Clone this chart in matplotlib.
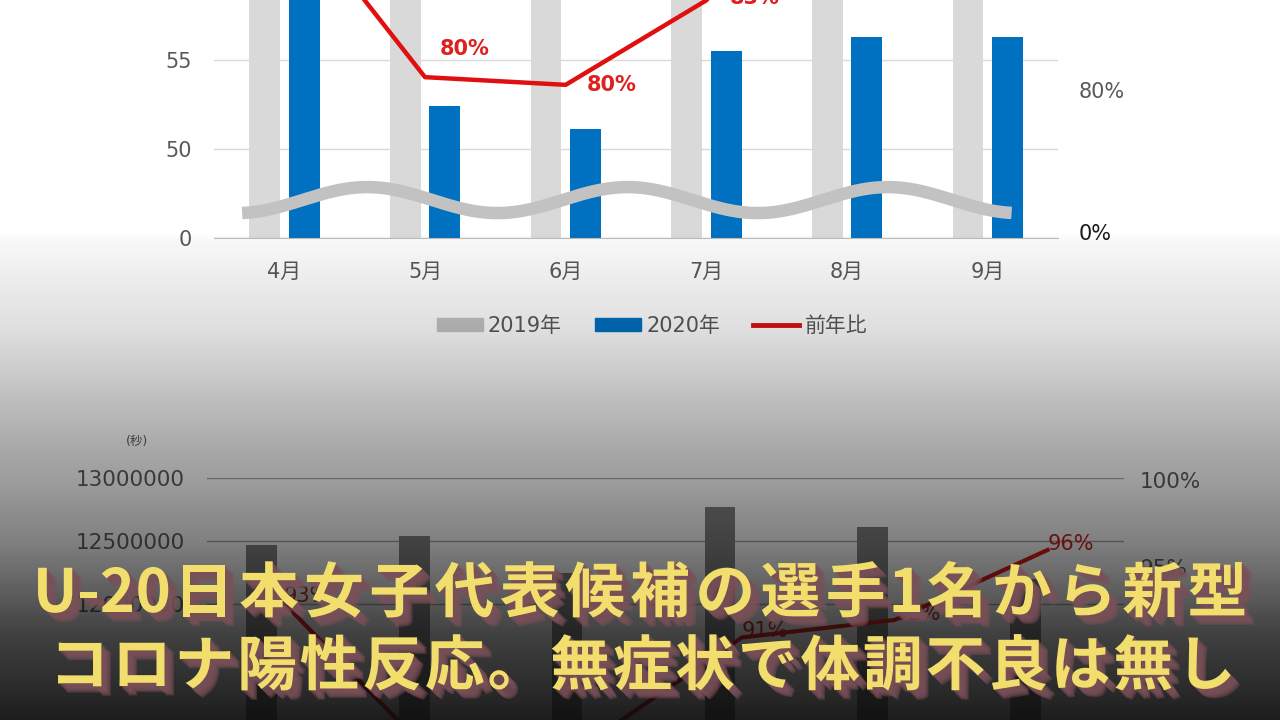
import numpy as np
import matplotlib
matplotlib.use('Agg')
import matplotlib.pyplot as plt
from matplotlib import patheffects as pe
from matplotlib.patches import Patch
from matplotlib.lines import Line2D

plt.rcParams['font.family'] = ['DejaVu Sans', 'Noto Sans CJK JP']

# top chart data
months = ['4月', '5月', '6月', '7月', '8月', '9月']
sales_2019 = [61.0, 60.5, 61.0, 60.0, 62.0, 61.0]
sales_2020 = [59.5, 52.4, 51.1, 55.5, 56.3, 56.3]
ratio = [0.86, 0.804, 0.8016, 0.828, 0.88, 0.87]
label_offsets = [(40, 28), (40, 28), (46, 0), (48, 2), (46, 4), (46, 4)]

# bottom chart data
secs_2019 = [12470000, 12540000, 12250000, 12770000, 12610000, 12200000]
ratio_b = [0.93, 0.84, 0.85, 0.91, 0.92, 0.96]

caption1 = 'U-20日本女子代表候補の選手1名から新型'
caption2 = 'コロナ陽性反応。無症状で体調不良は無し'

W, H = 1280, 720
fig = plt.figure(figsize=(12.8, 7.2), dpi=100, facecolor='white')


def fax(left, top, right, bottom):
    return [left / W, 1 - bottom / H, (right - left) / W, (bottom - top) / H]


def fwd_l(v):
    v = np.asarray(v, float)
    return np.where(v <= 50, v / 50, 1 + (v - 50) / 5)


def inv_l(u):
    u = np.asarray(u, float)
    return np.where(u <= 1, u * 50, 50 + (u - 1) * 5)


K = 22.54


def fwd_r(v):
    v = np.asarray(v, float)
    return np.where(v <= 0.8, v / 0.8, 1 + (v - 0.8) * K)


def inv_r(u):
    u = np.asarray(u, float)
    return np.where(u <= 1, u * 0.8, 0.8 + (u - 1) / K)


grey_txt = '#595959'
x = np.arange(len(months))

# ---------- top chart ----------
ax = fig.add_axes(fax(214, 0, 1058, 238))
ax.set_yscale('function', functions=(fwd_l, inv_l))
ax.bar(x - 0.14, sales_2019, width=0.22, color='#d9d9d9', zorder=2)
ax.bar(x + 0.14, sales_2020, width=0.22, color='#0070c0', zorder=2)
ax.set_xlim(-0.5, 5.5)
ax.set_ylim(0, 58.37)
ax.set_yticks([0, 50, 55])
ax.set_yticklabels(['0', '50', '55'])
ax.set_xticks(x)
ax.set_xticklabels(months)
ax.grid(axis='y', color='#d9d9d9', lw=1, zorder=0)
for s in ['top', 'right', 'left']:
    ax.spines[s].set_visible(False)
ax.spines['bottom'].set_color('#bfbfbf')
ax.tick_params(length=0, labelsize=15, labelcolor=grey_txt)
ax.tick_params(axis='x', pad=17)
ax.tick_params(axis='y', pad=16)

# axis-break wave
xs = np.linspace(-0.3, 5.17, 300)
ax.plot(xs, 21.3 + 7.3 * np.cos(2 * np.pi * (xs - 0.59) / 1.85),
        color='#c2c2c2', lw=9, solid_capstyle='butt', zorder=3)

axr = ax.twinx()
axr.set_yscale('function', functions=(fwd_r, inv_r))
axr.plot(x, ratio, color='#e01010', lw=3.2, zorder=4)
axr.set_ylim(-0.0338, 0.8281)
axr.set_yticks([0, 0.8])
axr.set_yticklabels(['0%', '80%'])
for s in axr.spines.values():
    s.set_visible(False)
axr.tick_params(length=0, labelsize=15, labelcolor=grey_txt, pad=15)
axr.get_yticklabels()[0].set_color('#1a1a1a')
for i, r in enumerate(ratio):
    axr.annotate(f'{r:.0%}', (x[i], r), xytext=label_offsets[i],
                 textcoords='offset pixels', ha='center', va='center',
                 color='#e02020', fontsize=15, fontweight='bold',
                 annotation_clip=False)

fig.legend(handles=[Patch(color='#c4c4c4'), Patch(color='#0070c0'),
                    Line2D([], [], color='#e01010', lw=3.5)],
           labels=['2019年', '2020年', '前年比'], loc='center',
           bbox_to_anchor=(652 / W, 1 - 326 / H), ncol=3, frameon=False,
           fontsize=15, labelcolor=grey_txt, handlelength=2.2,
           handleheight=0.6, handletextpad=0.25, columnspacing=1.6)

# ---------- bottom chart ----------
axb = fig.add_axes(fax(207, 478, 1124, 730))
axb.bar(x - 0.144, secs_2019, width=0.2, color='#7f7f7f', zorder=2)
axb.set_xlim(-0.5, 5.5)
axb.set_ylim(11000000, 13000000)
axb.set_yticks([12000000, 12500000, 13000000])
axb.set_yticklabels([str(v) for v in [12000000, 12500000, 13000000]])
axb.set_xticks([])
axb.grid(axis='y', color='#a6a6a6', lw=1, zorder=0)
for s in axb.spines.values():
    s.set_visible(False)
axb.tick_params(length=0, labelsize=15.5, labelcolor=grey_txt, pad=16)

axbr = axb.twinx()
axbr.plot(x, ratio_b, color='#e01010', lw=3, zorder=4)
axbr.set_ylim(0.8571, 1.00114)
axbr.set_yticks([0.95, 1.0])
axbr.set_yticklabels(['95%', '100%'])
for s in axbr.spines.values():
    s.set_visible(False)
axbr.tick_params(length=0, labelsize=15.5, labelcolor=grey_txt, pad=11)
for i, r in enumerate(ratio_b):
    axbr.annotate(f'{r:.0%}', (x[i], r), xytext=(0, 6),
                  textcoords='offset pixels', ha='left', va='center',
                  color='#d01818', fontsize=15, annotation_clip=False)
fig.text(137 / W, 1 - 441 / H, '(秒)', ha='center', va='center',
         fontsize=9, color=grey_txt)

# ---------- dark gradient overlay ----------
ov = fig.add_axes([0, 0, 1, 1], zorder=10)
ov.axis('off')
rows = np.arange(H)
alpha = np.interp(rows, [0, 232, 240, 333, 433, 478, 541, 633, 700, 720],
                  [0, 0, 0.03, 0.14, 0.33, 0.40, 0.52, 0.78, 0.89, 0.93])
grad = np.zeros((H, 2, 4))
grad[:, :, 0:3] = 0.04
grad[:, :, 3] = alpha[:, None]
ov.imshow(grad, aspect='auto', extent=[0, 1, 0, 1], origin='upper')
ov.set_xlim(0, 1)
ov.set_ylim(0, 1)

# ---------- caption (fixed pitch, like the video subtitle) ----------
shadow = [pe.SimplePatchShadow(offset=(k * 0.85, -k * 0.85),
                               shadow_rgbFace='#7a5058', alpha=0.42)
          for k in range(8, 0, -1)] + [pe.Normal()]
half_w = {'U': 0.68, '-': 0.34}


def caption_line(text, left, right, base_y, fs):
    cells = [half_w.get(ch, 0.55) if ord(ch) < 0x3000 else 1.0 for ch in text]
    pitch = (right - left) / sum(cells)
    xpos = left
    for ch, c in zip(text, cells):
        fig.text((xpos + c * pitch / 2) / W, 1 - base_y / H, ch,
                 ha='center', va='baseline', fontsize=fs, fontweight='bold',
                 color='#f2de6c', family=['Noto Sans CJK JP'], zorder=20,
                 path_effects=shadow)
        xpos += c * pitch


caption_line(caption1, 33, 1250, 612, 43)
caption_line(caption2, 48, 1237, 685, 43)

fig.savefig('out.png', dpi=100, facecolor='white')
